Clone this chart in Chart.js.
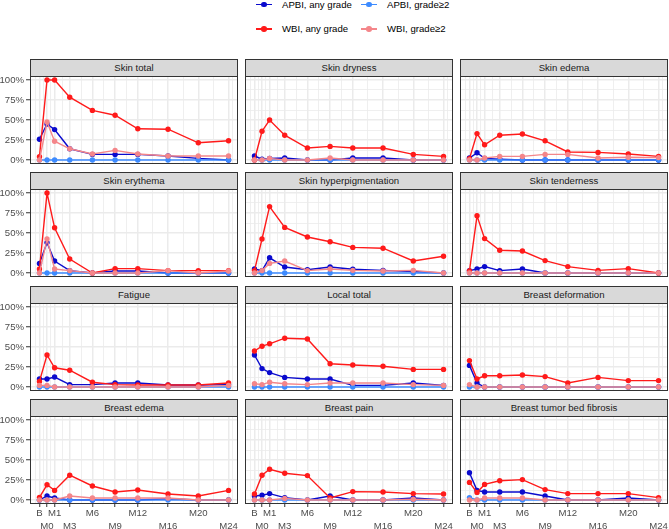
<!DOCTYPE html>
<html lang="en">
<head>
  <meta charset="UTF-8"/>
  <title>Toxicity over time, APBI vs WBI</title>
  <script src="https://cdn.jsdelivr.net/npm/chart.js@4.4.1/dist/chart.umd.min.js"></script>
  <style>
    body { margin: 0; background: #fff; font-family: "Liberation Sans", Arial, sans-serif; }
    #wrap { position: relative; width: 669px; height: 529px; overflow: hidden; }
    .strip { position: absolute; box-sizing: border-box; height: 18px; border: 1px solid #333;
             background: #d9d9d9; color: #1a1a1a; font-size: 9.6px; line-height: 16px; text-align: center; }
    .box { position: absolute; }
    .key { position: absolute; width: 16px; height: 8px; }
    .key .ln { position: absolute; left: 0; right: 0; top: 3.3px; height: 1.4px; }
    .key .pt { position: absolute; left: 5px; top: 1px; width: 5.5px; height: 5.5px; border-radius: 50%; }
    .ltxt { position: absolute; font-size: 9.6px; line-height: 12px; color: #000; white-space: nowrap; }
  </style>
</head>
<body>
<div id="wrap"></div>
<script>
  // time points (B = baseline, plotted at -1)
  const months = [-1, 0, 1, 3, 6, 9, 12, 16, 20, 24];
  const tickLabels = ['B', 'M0', 'M1', 'M3', 'M6', 'M9', 'M12', 'M16', 'M20', 'M24'];
  const yTicks = [0, 25, 50, 75, 100];

  const panelNames = ['Skin total', 'Skin dryness', 'Skin edema',
    'Skin erythema', 'Skin hyperpigmentation', 'Skin tenderness',
    'Fatigue', 'Local total', 'Breast deformation',
    'Breast edema', 'Breast pain', 'Breast tumor bed fibrosis'];

  // % of patients, one row per panel
  const apbiAny = [
    [26, 45, 38, 14, 7, 7, 7, 5, 2, 0],
    [5, 1, 2, 2.5, 0, 0, 2.5, 2.5, 0, 0],
    [2.5, 9, 2, 1, 0, 0, 0, 0, 0, 0],
    [12, 38, 15, 3, 0, 2.5, 2.5, 0, 0, 0],
    [5, 3, 19, 7.5, 4, 7.5, 4.6, 3.3, 1.7, 0],
    [3, 5, 8, 3, 5, 0, 0, 0, 0, 0],
    [10, 10, 12.5, 3, 3, 5, 5, 2.5, 2.5, 3],
    [40, 23, 18, 12, 10, 10, 2, 2, 5, 2],
    [27, 5, 0, 0, 0, 0, 0, 0, 0, 0],
    [0, 5, 2.5, 0, 0, 0, 0, 1.5, 0, 0],
    [5, 6, 8, 3, 0, 5, 0, 0, 2.5, 0],
    [34, 12, 10, 10, 10, 5, 0, 0, 2.5, 0]
  ];
  const apbiG2 = [
    [0, 0, 0, 0, 0, 0, 0, 0, 0, 0],
    [0, 0, 0, 0, 0, 0, 0, 0, 0, 0],
    [0, 0, 0, 0, 0, 0, 0, 0, 0, 0],
    [0, 0, 0, 0, 0, 0, 0, 0, 0, 0],
    [0, 0, 0, 0, 0, 0, 0, 0, 0, 0],
    [0, 0, 0, 0, 0, 0, 0, 0, 0, 0],
    [0, 0, 0, 0, 0, 0, 0, 0, 0, 0],
    [0, 0, 0, 0, 0, 0, 0, 0, 0, 0],
    [0, 0, 0, 0, 0, 0, 0, 0, 0, 0],
    [0, 0, 0, 0, 0, 0, 0, 0, 0, 0],
    [0, 0, 0, 0, 0, 0, 0, 0, 0, 0],
    [3, 0, 0, 0, 0, 0, 0, 0, 0, 0]
  ];
  const wbiAny = [
    [4, 100, 100, 78.5, 62, 56, 39, 38.5, 21.5, 24],
    [0, 36, 50, 31, 15, 17, 15, 15, 7, 4.5],
    [1.7, 33, 19, 31, 32.5, 24, 10, 9.5, 7.5, 4.5],
    [5, 100, 56.5, 17.5, 0, 5.5, 5.5, 3, 3, 3],
    [3, 42.5, 83, 57, 45, 39, 32, 31, 15, 21],
    [2.5, 71.5, 43, 28.5, 27.5, 15.5, 8, 3.3, 5.5, 0],
    [7, 40, 24, 21, 6, 3, 2.5, 2.5, 2.5, 5],
    [45, 51, 54, 61, 60, 29, 27.5, 26, 22, 22],
    [33, 10, 14, 14, 15, 13, 5, 12, 8, 8],
    [3.3, 19, 12, 31, 17.5, 10, 12.5, 7.5, 5, 12],
    [7.5, 31, 38.5, 33.5, 30.5, 2.5, 10.5, 10, 8, 7.5],
    [22, 9.5, 19.5, 24, 25.5, 13, 8, 8, 8, 3]
  ];
  const wbiG2 = [
    [0, 47.5, 23.5, 14, 7.5, 12, 7.5, 5, 5, 5],
    [0, 0, 2, 0, 0, 2.5, 0, 0, 0, 0],
    [0, 0, 2.5, 4.5, 4.5, 7, 7, 2.5, 3.5, 3],
    [0, 42.5, 5, 3, 0, 0, 0, 3, 0, 2.5],
    [0, 3, 12, 15, 3, 5, 3.3, 2.5, 3.3, 0],
    [0, 0, 0, 0, 0, 0, 0, 0, 0, 0],
    [2, 2, 0, 0, 0, 0, 0, 0, 0, 2],
    [4, 3, 6, 4, 3, 5, 5, 5, 3, 2],
    [3, 0, 0, 0, 0, 0, 0, 0, 0, 0],
    [0, 0, 0, 5, 2.5, 2.5, 2.5, 2.5, 0, 0],
    [0, 0, 0, 2, 0, 0, 0, 0, 1, 0],
    [0, 0, 2.5, 2.5, 2.5, 0, 0, 0, 0, 0]
  ];

  const series = [
    { label: 'APBI, any grade', color: '#0a0acd', values: apbiAny },
    { label: 'APBI, grade\u22652', color: '#3d8bff', values: apbiG2 },
    { label: 'WBI, any grade', color: '#ff1a1a', values: wbiAny },
    { label: 'WBI, grade\u22652', color: '#f4868a', values: wbiG2 }
  ];

  Chart.defaults.font.family = '"Liberation Sans", Arial, sans-serif';
  Chart.defaults.font.size = 9.6;

  const wrap = document.getElementById('wrap');

  // legend (2 x 2)
  const legPos = [[256, 4.5], [361, 4.5], [256, 29], [361, 29]];
  series.forEach((s, i) => {
    const [lx, ly] = legPos[i];
    const k = document.createElement('div');
    k.className = 'key';
    k.style.left = lx + 'px';
    k.style.top = (ly - 4) + 'px';
    k.innerHTML = `<div class="ln" style="background:${s.color}"></div><div class="pt" style="background:${s.color}"></div>`;
    wrap.appendChild(k);
    const t = document.createElement('div');
    t.className = 'ltxt';
    t.style.left = (lx + 26) + 'px';
    t.style.top = (ly - 6) + 'px';
    t.textContent = s.label;
    wrap.appendChild(t);
  });

  // minor breaks, ggplot style
  const xMinor = [-1.5, -0.5, 0.5, 2, 4.5, 7.5, 10.5, 14, 18, 22, 24.5];
  const yMinor = [12.5, 37.5, 62.5, 87.5];

  const panelFrame = {
    id: 'panelFrame',
    beforeDraw(chart) {
      const a = chart.chartArea, c = chart.ctx;
      c.save();
      c.fillStyle = '#fff';
      c.fillRect(a.left, a.top, a.right - a.left, a.bottom - a.top);
      c.restore();
    },
    afterDatasetsDraw(chart) {
      const a = chart.chartArea, c = chart.ctx;
      c.save();
      c.strokeStyle = '#333';
      c.lineWidth = 1;
      c.strokeRect(a.left + 0.5, a.top + 0.5, a.right - a.left - 1, a.bottom - a.top - 1);
      c.restore();
    }
  };

  // no label overflow padding: panel size is fixed
  const noPad = s => { s.paddingTop = 0; s.paddingBottom = 0; s.paddingLeft = 0; s.paddingRight = 0; };

  const colLeft = [30, 245, 460];
  const panelW = 208, panelH = 88;

  panelNames.forEach((name, p) => {
    const r = Math.floor(p / 3), c = p % 3;
    const top = Math.round(76 + r * 113.3);
    const left = colLeft[c];
    const bottomRow = r === 3, leftCol = c === 0;

    const strip = document.createElement('div');
    strip.className = 'strip';
    strip.style.left = left + 'px';
    strip.style.width = panelW + 'px';
    strip.style.top = (top - 17) + 'px';
    strip.textContent = name;
    wrap.appendChild(strip);

    const box = document.createElement('div');
    box.className = 'box';
    box.style.left = (left - 30) + 'px';
    box.style.top = (top - 1) + 'px';
    const cw = 30 + panelW + 1, ch = 1 + panelH + (bottomRow ? 30 : 1);
    box.innerHTML = `<canvas width="${cw}" height="${ch}"></canvas>`;
    wrap.appendChild(box);

    const datasets = series.slice().reverse().map(s => ({
      label: s.label,
      data: months.map((m, i) => ({ x: m, y: s.values[p][i] })),
      borderColor: s.color,
      backgroundColor: s.color,
      borderWidth: 1.4,
      pointRadius: 2.7,
      pointBorderWidth: 0,
      pointHoverRadius: 2.7,
      tension: 0
    }));

    new Chart(box.querySelector('canvas'), {
      type: 'line',
      data: { datasets },
      plugins: [panelFrame],
      options: {
        responsive: false,
        devicePixelRatio: 1,
        animation: false,
        events: [],
        layout: { autoPadding: false, padding: { top: 1, right: 1, left: 0, bottom: bottomRow ? 0 : 1 } },
        plugins: { legend: { display: false }, tooltip: { enabled: false } },
        scales: {
          x: {
            type: 'linear', min: -2.25, max: 25.25,
            afterBuildTicks: s => { s.ticks = months.concat(xMinor).sort((a, b) => a - b).map(v => ({ value: v })); },
            afterFit: s => { s.height = bottomRow ? 30 : 0; noPad(s); },
            border: { display: false },
            grid: {
              color: '#ebebeb',
              lineWidth: ctx => months.includes(ctx.tick.value) ? 1.5 : 0.8,
              tickColor: ctx => months.includes(ctx.tick.value) ? '#333' : 'rgba(0,0,0,0)',
              drawTicks: bottomRow, tickLength: 3, tickWidth: 1
            },
            ticks: {
              display: bottomRow, autoSkip: false, maxRotation: 0, padding: 0,
              color: '#4d4d4d', font: { size: 9.6, lineHeight: 1.35 },
              callback: v => {
                const i = months.indexOf(v);
                if (i < 0) return '';
                return i % 2 === 0 ? [tickLabels[i], ''] : ['', tickLabels[i]];
              }
            }
          },
          y: {
            type: 'linear', min: -5, max: 105,
            afterBuildTicks: s => { s.ticks = yTicks.concat(yMinor).sort((a, b) => a - b).map(v => ({ value: v })); },
            afterFit: s => { s.width = 30; noPad(s); },
            border: { display: false },
            grid: {
              color: '#ebebeb',
              lineWidth: ctx => yTicks.includes(ctx.tick.value) ? 1.5 : 0.8,
              tickColor: ctx => yTicks.includes(ctx.tick.value) ? '#333' : 'rgba(0,0,0,0)',
              drawTicks: leftCol, tickLength: 4, tickWidth: 1
            },
            ticks: {
              display: leftCol, padding: 2, color: '#4d4d4d',
              callback: v => yTicks.includes(v) ? v + '%' : ''
            }
          }
        }
      }
    });
  });
</script>
</body>
</html>
